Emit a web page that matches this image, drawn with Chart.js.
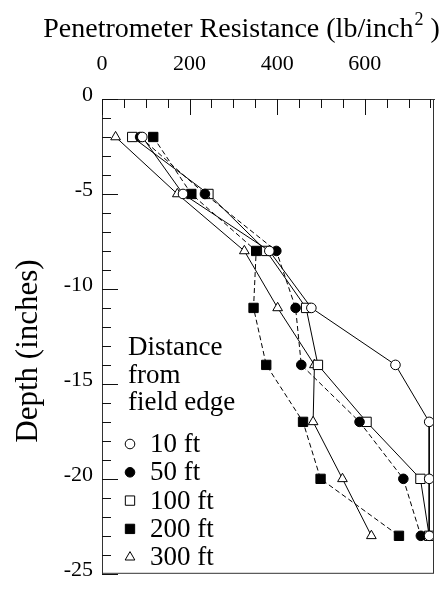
<!DOCTYPE html>
<html>
<head>
<meta charset="utf-8">
<script src="https://cdn.jsdelivr.net/npm/chart.js@4.4.1/dist/chart.umd.min.js"></script>
<style>
  html, body { margin: 0; padding: 0; background: #fff; }
  #wrap { width: 447px; height: 596px; }
</style>
</head>
<body>
<div id="wrap"><canvas id="chart" width="447" height="596"></canvas></div>
<script>
// depth of each reading (inches)
const depths = [-2, -5, -8, -11, -14, -17, -20, -23];

// penetrometer resistance (lb/inch^2) per distance from field edge
const ft10 = [92, 185, 382, 478, 670, 747, 747, 747];
const ft50 = [87, 235, 398, 442, 455, 588, 688, 728];
const ft100 = [69, 243, 375, 466, 493, 604, 727, 747];
const ft200 = [117, 204, 352, 346, 375, 459, 499, 678];
const ft300 = [31, 172, 325, 401, 485, 482, 549, 615];

const seriesLabels = ['10 ft', '50 ft', '100 ft', '200 ft', '300 ft'];
const xTickLabels = [0, 200, 400, 600];
const yTickLabels = [0, -5, -10, -15, -20, -25];
const legendTitle = ['Distance', 'from', 'field edge'];

const FONT = '"Liberation Serif", "Times New Roman", serif';

function pts(xs) {
  return xs.map((v, i) => ({ x: v, y: depths[i] }));
}

// look of each series
const styles = [
  { pointStyle: 'circle', fill: '#fff', radius: 4.8, dash: [] },
  { pointStyle: 'circle', fill: '#000', radius: 4.8, dash: [5, 3] },
  { pointStyle: 'rect', fill: '#fff', radius: 6.6, dash: [] },
  { pointStyle: 'rect', fill: '#000', radius: 6.6, dash: [5, 3] },
  { pointStyle: 'triangle', fill: '#fff', radius: 5.6, dash: [] }
];

const allSeries = [ft10, ft50, ft100, ft200, ft300];

const datasets = allSeries.map((s, i) => ({
  label: seriesLabels[i],
  data: pts(s),
  showLine: true,
  borderColor: '#000',
  borderWidth: 1,
  borderDash: styles[i].dash,
  pointStyle: styles[i].pointStyle,
  pointRadius: styles[i].radius,
  pointHoverRadius: styles[i].radius,
  pointBackgroundColor: styles[i].fill,
  pointBorderColor: '#000',
  pointBorderWidth: 1,
  fill: false
}));

// tick marks pointing into the plot, titles and the legend block
const decorations = {
  id: 'decorations',
  afterDraw(chart) {
    const ctx = chart.ctx;
    const a = chart.chartArea;
    const xs = chart.scales.x;
    const ys = chart.scales.y;
    ctx.save();
    ctx.setLineDash([]);
    ctx.strokeStyle = '#333';
    ctx.lineWidth = 1;
    ctx.strokeRect(a.left + 0.5, a.top + 0.5, a.right - a.left - 1, a.bottom - a.top - 1);

    // inward ticks: every 50 on x, every inch on y
    ctx.fillStyle = '#111';
    for (let v = 0; v <= 750; v += 50) {
      const px = Math.round(xs.getPixelForValue(v));
      const len = v % 200 === 0 ? 16 : 9;
      ctx.fillRect(px, a.top, 1, len);
    }
    for (let v = -25; v <= 0; v += 1) {
      const py = Math.round(ys.getPixelForValue(v));
      const len = v % 5 === 0 ? 16 : 9;
      ctx.fillRect(a.left, py, len, 1);
    }

    // main title with superscript
    ctx.fillStyle = '#000';
    ctx.textBaseline = 'alphabetic';
    ctx.font = '28px ' + FONT;
    const t1 = 'Penetrometer Resistance (lb/inch';
    const t3 = ' )';
    const w1 = ctx.measureText(t1).width;
    const w3 = ctx.measureText(t3).width;
    ctx.font = '18px ' + FONT;
    const w2 = ctx.measureText('2').width;
    let x0 = 241 - (w1 + w2 + w3) / 2;
    ctx.font = '28px ' + FONT;
    ctx.textAlign = 'left';
    ctx.fillText(t1, x0, 37);
    ctx.font = '18px ' + FONT;
    ctx.fillText('2', x0 + w1 + 1, 25);
    ctx.font = '28px ' + FONT;
    ctx.fillText(t3, x0 + w1 + w2 + 1, 37);

    // y axis title
    ctx.save();
    ctx.font = '31px ' + FONT;
    ctx.translate(29, 351);
    ctx.rotate(-Math.PI / 2);
    ctx.textAlign = 'center';
    ctx.textBaseline = 'middle';
    ctx.fillText('Depth (inches)', 0, 0);
    ctx.restore();

    // legend
    ctx.font = '27px ' + FONT;
    ctx.textAlign = 'left';
    ctx.textBaseline = 'alphabetic';
    legendTitle.forEach((line, i) => {
      ctx.fillText(line, 128, 355 + i * 27.5);
    });
    ctx.textBaseline = 'middle';
    chart.data.datasets.forEach((ds, i) => {
      const cy = 444 + i * 28.3;
      ctx.fillStyle = ds.pointBackgroundColor;
      ctx.strokeStyle = '#000';
      ctx.lineWidth = 1;
      Chart.helpers.drawPoint(ctx, {
        pointStyle: ds.pointStyle,
        radius: ds.pointRadius,
        rotation: 0,
        borderWidth: 1
      }, 130, cy);
      ctx.fillStyle = '#000';
      ctx.fillText(ds.label, 150, cy + 1);
    });
    ctx.restore();
  }
};

new Chart(document.getElementById('chart'), {
  type: 'scatter',
  data: { datasets: datasets },
  options: {
    responsive: false,
    animation: false,
    layout: { padding: { left: 0, right: 13, top: 0, bottom: 2 } },
    plugins: {
      legend: { display: false },
      tooltip: { enabled: false }
    },
    scales: {
      x: {
        type: 'linear',
        position: 'top',
        min: 0,
        max: 758,
        afterFit(scale) { scale.height = 99; },
        afterBuildTicks(scale) { scale.ticks = xTickLabels.map(v => ({ value: v })); },
        grid: { display: true, drawOnChartArea: false, drawTicks: false, color: '#333' },
        border: { display: true, color: '#333', width: 1 },
        ticks: {
          color: '#000',
          padding: 22,
          maxRotation: 0,
          font: { family: FONT, size: 22 }
        }
      },
      y: {
        type: 'linear',
        min: -25,
        max: 0,
        afterFit(scale) { scale.width = 102; },
        afterBuildTicks(scale) { scale.ticks = yTickLabels.map(v => ({ value: v })); },
        grid: { display: true, drawOnChartArea: false, drawTicks: false, color: '#333' },
        border: { display: true, color: '#333', width: 1 },
        ticks: {
          color: '#000',
          padding: 9,
          labelOffset: -4,
          font: { family: FONT, size: 22 }
        }
      }
    }
  },
  plugins: [decorations]
});
</script>
</body>
</html>
